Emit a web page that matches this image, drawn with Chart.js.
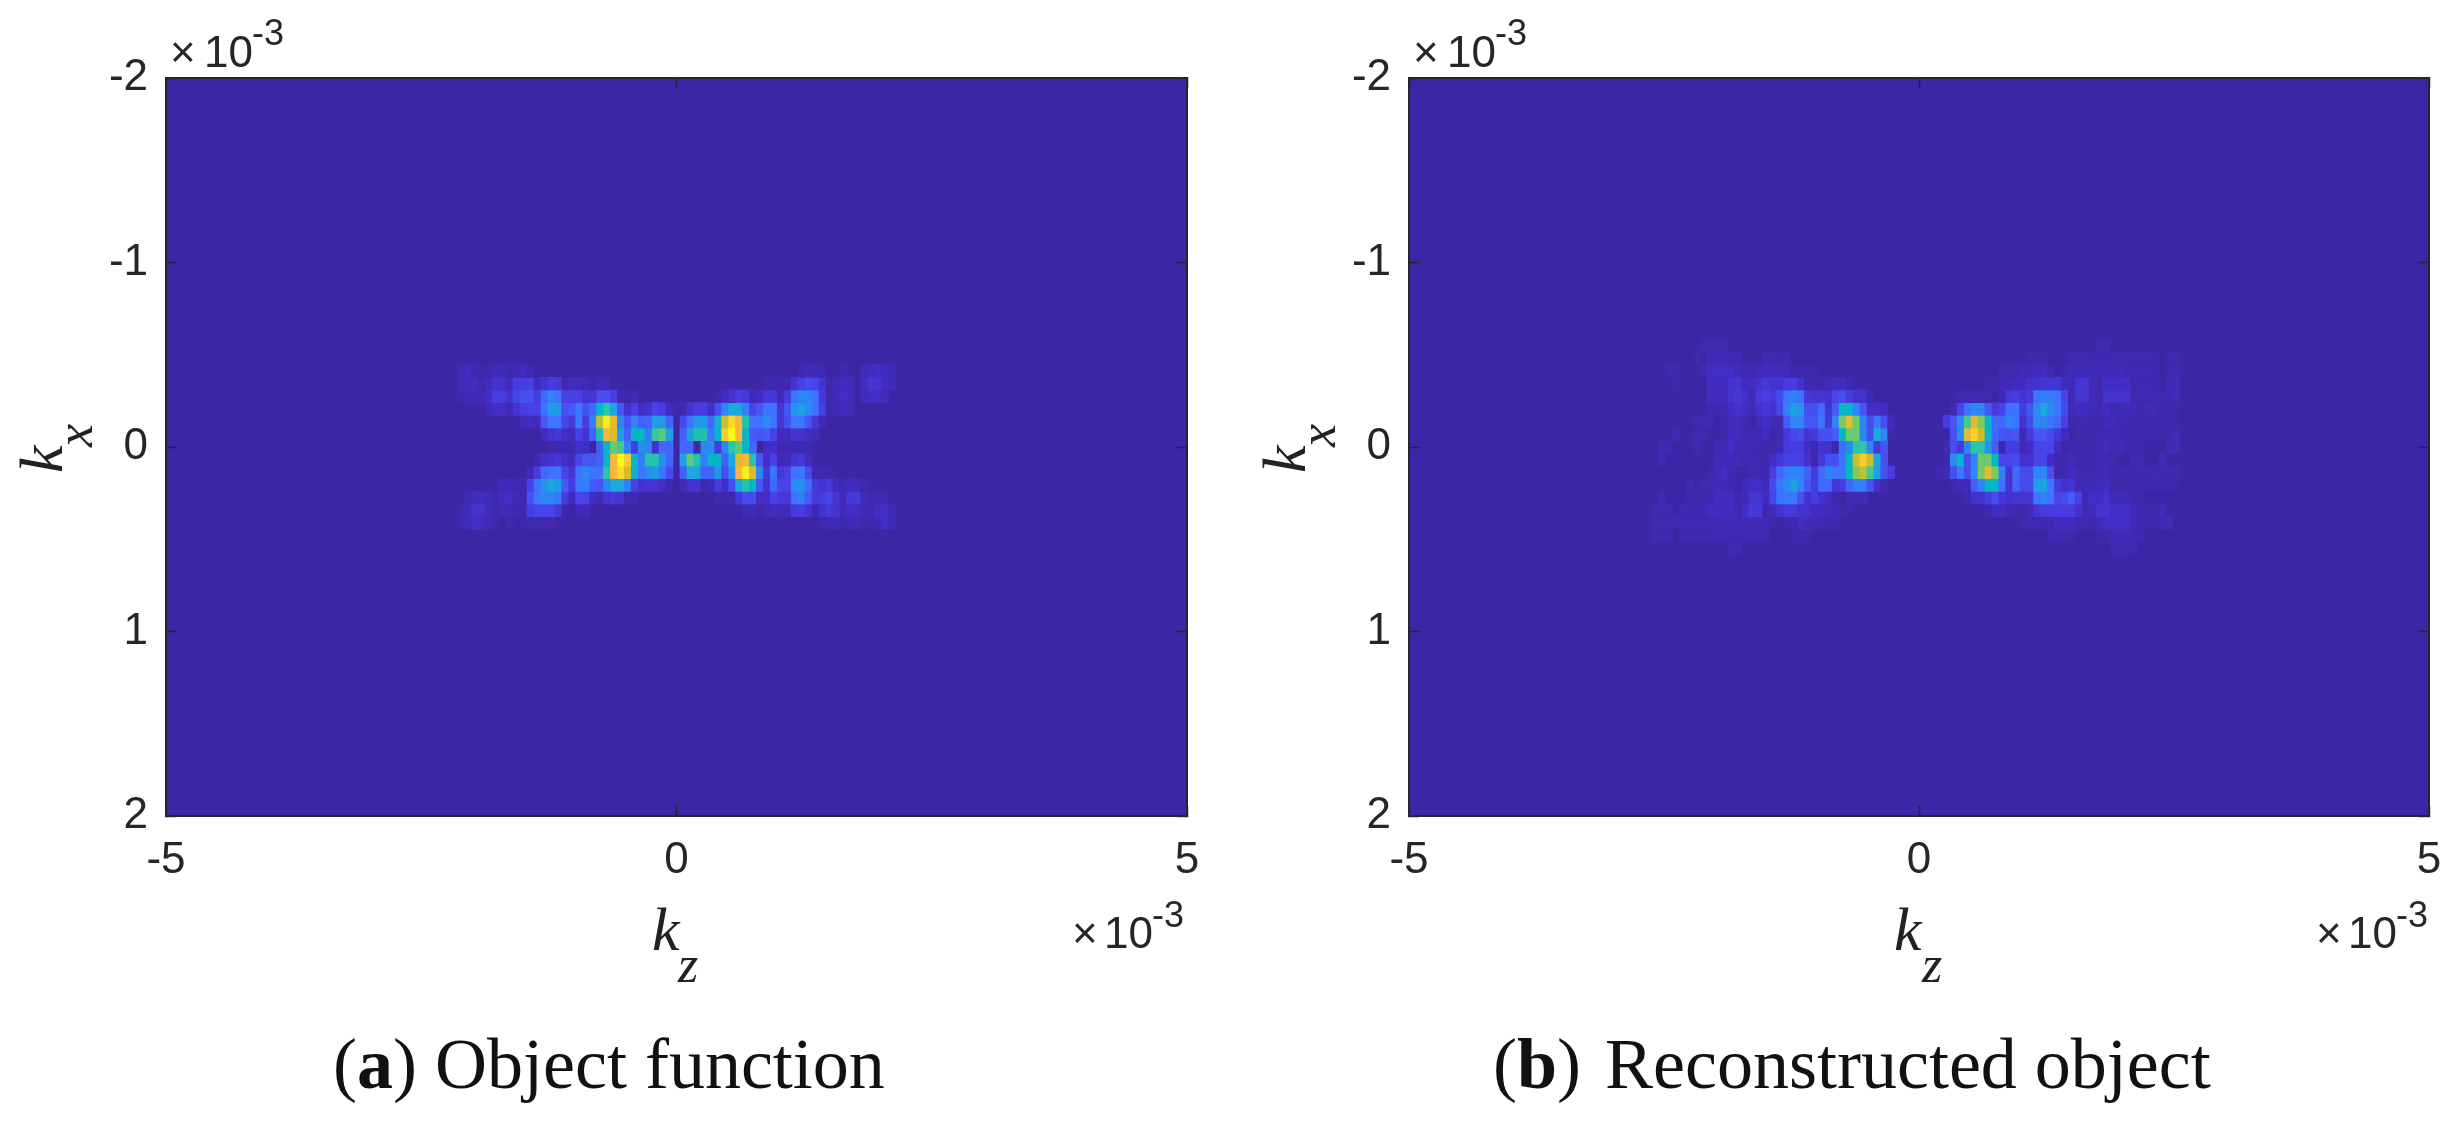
<!DOCTYPE html>
<html lang="en">
<head>
  <meta charset="UTF-8" />
  <title>Object function and reconstructed object</title>
  <script src="https://cdn.jsdelivr.net/npm/chart.js"></script>
  <style>
    html, body { margin: 0; padding: 0; background: #fff; overflow: hidden; }
    body { width: 2462px; height: 1126px; position: relative; }
    canvas { position: absolute; top: 0; }
    #chartA { left: 0; }
    #chartB { left: 1231px; }
    .t { position: absolute; line-height: 1; white-space: nowrap; }
    .sans { font-family: 'Liberation Sans', sans-serif; color: #262626; }
    .num { font-size: 44px; }
    .sup { font-size: 36px; }
    .k { font-family: 'Liberation Serif', serif; font-style: italic; color: #222; font-size: 62px; }
    .sub { font-family: 'Liberation Serif', serif; font-style: italic; color: #222; font-size: 52px; }
    .rot { transform: rotate(-90deg); transform-origin: 0 0; }
    .cap { font-family: 'Liberation Serif', serif; font-size: 72px; color: #111; }
  </style>
</head>
<body>
  <canvas id="chartA" width="1231" height="1126"></canvas>
  <canvas id="chartB" width="1231" height="1126"></canvas>

  <span class="t sans num" style="left:170px;top:30px">×</span>
  <span class="t sans num" style="left:204px;top:30px">10</span>
  <span class="t sans sup" style="left:252px;top:15px">-3</span>
  <span class="t sans num" style="left:1413px;top:30px">×</span>
  <span class="t sans num" style="left:1447px;top:30px">10</span>
  <span class="t sans sup" style="left:1495px;top:15px">-3</span>

  <span class="t sans num" style="left:1072px;top:911px">×</span>
  <span class="t sans num" style="left:1104px;top:911px">10</span>
  <span class="t sans sup" style="left:1152px;top:897px">-3</span>
  <span class="t sans num" style="left:2316px;top:911px">×</span>
  <span class="t sans num" style="left:2348px;top:911px">10</span>
  <span class="t sans sup" style="left:2396px;top:897px">-3</span>

  <span class="t k" style="left:652px;top:898px">k</span>
  <span class="t sub" style="left:678px;top:939px">z</span>
  <span class="t k" style="left:1894px;top:898px">k</span>
  <span class="t sub" style="left:1922px;top:939px">z</span>

  <span class="t k rot" style="left:10px;top:473px">k</span>
  <span class="t sub rot" style="left:49px;top:447px">x</span>
  <span class="t k rot" style="left:1253px;top:473px">k</span>
  <span class="t sub rot" style="left:1292px;top:447px">x</span>

  <span class="t cap" style="left:333px;top:1028px">(<b>a</b>)</span>
  <span class="t cap" style="left:435px;top:1028px">Object function</span>
  <span class="t cap" style="left:1493px;top:1028px">(<b>b</b>)</span>
  <span class="t cap" style="left:1605px;top:1028px">Reconstructed object</span>

  <script>
    const xTicks = [-5, 0, 5];
    const yTicks = [-2, -1, 0, 1, 2];

    // grid spacing of the k-space cells, in units of 1e-3
    const kzStep = 0.0681;
    const kxStep = 0.0687;

    // values are 0-100 on the colour scale
    // rows run top to bottom, left halves start at objectFirstCol, right halves at 0
    const objectRowIds = [-6, -5, -4, -3, -2, -1, 0, 1, 2, 3, 4, 5, 6];
    const objectFirstCol = -31;
    const objectLeft = [
      [3,4,2,1,1,3,3,1,3,4,2],
      [3,4,4,2,4,6,6,4,9,9,10,4,7,9,8,2,4,4,3,1,3,3],
      [1,3,3,3,5,9,9,6,11,13,13,9,18,27,21,10,10,10,7,7,13,13,10,2,1,3],
      [0,0,0,0,3,5,5,3,7,9,10,10,20,35,33,13,15,22,13,18,47,58,38,14,6,10,5,6,11,9,4],
      [0,0,0,0,0,0,0,0,0,3,4,3,14,21,20,11,8,22,9,26,80,98,85,27,14,28,16,17,34,34,17],
      [0,0,0,0,0,0,0,0,0,0,0,0,4,6,8,5,4,10,7,17,55,88,84,35,16,48,47,22,60,66,36],
      [0,0,0,0,0,0,0,0,0,0,0,0,0,2,2,2,1,5,5,0,16,46,68,62,25,9,30,28,6,18,18],
      [0,0,0,0,0,0,0,0,0,0,0,2,5,6,8,5,4,11,14,14,16,48,88,100,92,45,24,56,56,32,18],
      [0,0,0,0,0,0,0,0,0,0,3,9,18,20,20,11,7,20,28,20,20,58,88,94,83,44,22,30,34,22,12],
      [0,0,0,0,0,0,3,3,2,2,10,20,31,39,34,15,9,21,25,15,14,28,38,38,26,10,6,7,7,5,2],
      [0,2,4,4,3,1,4,5,3,2,13,22,28,28,22,9,4,11,11,5,3,7,8,7,3,2],
      [2,3,6,6,4,1,3,3,1,2,9,11,11,11,8,1,0,3,3],
      [2,3,5,4,3,1,0,2,0,1,2,2,2,2]
    ];
    const objectRight = [
      [0,0,0,0,0,0,0,0,0,0,0,0,0,0,0,0,0,0,2,3,3,2,0,0,2,0,0,3,4,5,4,3],
      [0,0,0,0,0,0,0,0,0,0,0,0,0,2,2,1,2,7,10,12,11,7,1,3,4,3,0,4,7,7,5,3],
      [0,0,0,0,0,0,1,4,6,9,8,3,4,8,8,3,9,20,27,27,20,8,1,3,5,4,0,3,5,5,3],
      [1,2,7,9,9,5,13,27,38,38,26,11,14,22,20,7,14,32,36,30,20,10,1,3,4,3],
      [0,12,20,33,33,18,42,82,94,88,55,20,20,30,21,7,13,22,22,14,8,3],
      [0,16,36,55,55,20,46,92,100,88,47,15,14,15,10,4,4,7,6,5,3],
      [0,18,18,1,28,30,9,28,58,66,46,18,0,5,5,1,2,2,2,2],
      [0,36,66,56,24,46,46,16,38,84,88,56,14,5,10,3,3,7,8,4],
      [0,16,38,38,17,17,32,12,30,88,98,83,28,8,20,8,10,20,22,12,2,2,2],
      [0,3,6,7,2,3,9,5,13,38,56,47,14,7,18,11,11,30,31,19,8,7,8,4,2,4,4,2],
      [0,0,0,0,0,0,2,1,1,8,12,12,5,5,10,8,8,20,25,15,8,9,11,7,4,8,8,3,2,2,2],
      [0,0,0,0,0,0,0,0,0,0,3,3,1,3,4,3,3,8,9,7,2,6,8,7,3,5,5,3,2,5,5,3],
      [0,0,0,0,0,0,0,0,0,0,0,0,0,0,0,0,0,0,0,0,0,2,2,3,1,3,3,1,1,2,5,3]
    ];

    const reconRowIds = [-8, -7, -6, -5, -4, -3, -2, -1, 0, 1, 2, 3, 4, 5, 6, 7, 8];
    const reconFirstCol = -38;
    const reconRightCol = 2;
    const reconLeft = [
      [0,0,0,0,0,0,0,2,2,2,2],
      [0,0,0,0,0,0,1,0,3,3,3,2,2,0,0,0,2,2,2,2],
      [0,0,2,2,0,0,0,2,5,5,5,5,3,2,2,3,4,4,4,3,1,1,1,1],
      [0,0,0,1,0,0,0,0,4,4,4,6,7,4,4,6,8,7,7,9,9,6,2,1,1,3,4,4,2],
      [0,0,0,0,0,0,0,0,4,4,4,7,8,6,3,8,10,8,12,20,26,20,8,7,7,6,11,13,9,6,6,2],
      [0,0,0,0,0,0,0,0,2,2,2,5,6,5,3,6,8,6,11,26,36,33,13,13,18,7,15,46,46,28,14,5,5,4],
      [0,0,0,0,0,0,2,2,2,0,2,3,4,2,0,3,5,3,3,15,27,27,14,14,22,8,27,70,85,68,27,12,22,13,3],
      [0,0,0,3,0,0,2,2,0,0,1,4,4,2,2,2,4,1,1,8,11,12,7,8,13,13,15,47,68,68,28,13,40,27,1],
      [0,2,2,0,0,0,2,0,0,2,3,5,2,2,2,2,1,1,3,8,9,9,5,2,6,6,1,20,29,58,58,28,8,14,0],
      [0,2,0,0,0,0,0,0,0,3,3,3,3,2,2,2,1,5,8,10,10,10,6,1,8,13,13,20,48,82,92,82,38,13],
      [0,0,0,0,0,0,0,0,1,3,5,2,0,0,2,2,1,9,18,24,27,27,16,8,18,28,21,21,47,72,80,62,36,13,9],
      [0,0,0,0,0,2,0,2,2,3,3,2,0,3,5,5,3,12,22,30,36,29,14,9,18,18,8,9,17,25,25,14,6,2],
      [0,2,0,0,0,1,1,1,2,4,4,4,1,3,7,7,4,11,20,22,22,13,7,9,6,5,1,0,3,3,3],
      [2,2,2,0,2,2,2,2,4,4,4,4,2,5,8,8,1,3,6,8,8,6,6,4,4,3,3,1,1],
      [2,2,2,2,2,2,2,2,2,3,3,3,3,3,3,3,3,1,0,1,2,5,3,3,2,2,2],
      [2,2,2,0,2,2,2,2,2,2,2,2,2,2,2,2,2,0,0,0,1,1,1],
      [0,0,0,0,0,0,0,0,0,0,0,2,2]
    ];
    const reconRight = [
      [0,0,0,0,0,0,0,0,0,0,0,0,0,0,0,0,0,0,0,0,0,0,0,0,2,2],
      [0,0,0,0,0,0,0,0,0,0,0,0,0,0,1,1,1,0,0,0,2,2,2,2,2,2,2,2,2,2,2,2,2,0,2,2],
      [0,0,0,0,0,0,0,0,0,0,2,2,2,3,3,4,4,2,0,2,3,3,3,3,3,3,3,3,2,2,2,2,2,0,2,2],
      [0,0,0,0,0,0,0,0,1,1,3,3,4,4,6,6,7,7,7,4,3,7,7,3,1,5,5,5,5,2,2,2,2,0,3,3],
      [0,0,0,0,2,2,2,2,2,0,3,8,9,7,8,21,24,24,20,11,3,7,7,3,1,6,6,6,6,2,2,2,2,2,2,3],
      [0,0,0,3,11,20,28,28,14,8,11,20,20,9,14,30,38,30,20,12,3,4,4,3,2,4,2,3,3,3,1,3,3,1,1,1],
      [0,0,9,14,30,62,84,72,46,18,18,28,20,6,12,27,27,22,18,10,1,2,2,1,1,3,3,2,2,1,1,1,1,1,1,1],
      [0,0,0,13,30,85,93,82,45,18,14,13,14,3,8,14,14,12,8,4,0,1,1,1,2,2,2,2,1,1,1,1,1,1,1,3],
      [0,0,2,12,8,28,58,58,32,16,1,9,9,3,5,11,11,11,4,0,1,2,2,2,2,4,2,3,1,1,2,0,0,0,3,3],
      [0,0,2,28,45,13,26,68,68,48,11,11,12,6,6,11,11,5,1,1,3,1,1,1,2,2,2,0,0,2,2,0,0,3],
      [0,2,3,13,22,12,28,70,85,70,27,7,18,12,12,27,27,13,2,2,4,3,1,2,2,3,1,1,2,2,2,2,2,2,2,2],
      [0,0,0,1,3,3,16,25,46,46,20,7,17,12,12,36,36,22,9,6,7,3,3,3,3,4,1,1,1,1,1,1,1,1,1,1],
      [0,0,0,0,0,2,6,6,9,12,8,6,7,7,7,20,26,20,11,12,15,10,3,5,5,6,3,3,3,1,1],
      [0,0,0,0,0,0,0,0,1,4,4,2,1,1,3,7,9,9,9,9,9,6,3,3,6,7,5,5,5,3,1,1,1,3],
      [0,0,0,0,0,0,0,0,0,0,0,0,0,2,2,2,2,2,4,4,4,2,2,2,3,5,5,5,5,3,1,1,1,3,3],
      [0,0,0,0,0,0,0,0,0,0,0,0,0,0,0,0,0,2,2,2,2,0,0,0,1,1,3,3,3,2,2],
      [0,0,0,0,0,0,0,0,0,0,0,0,0,0,0,0,0,0,0,0,0,0,0,0,0,0,2,2,2,2]
    ];

    const bgColor = '#3d26a5';
    const axisColor = '#262626';

    // parula-like colour map, stop value then rgb
    const cmap = [
      [0, 61, 38, 165], [2, 63, 41, 177], [5, 66, 46, 198], [10, 72, 64, 230], [15, 68, 91, 247],
      [20, 61, 115, 254], [30, 40, 140, 240], [38, 27, 168, 222], [48, 0, 186, 195],
      [58, 46, 197, 165], [66, 92, 203, 120], [75, 150, 200, 75], [82, 205, 190, 40],
      [88, 250, 183, 58], [94, 250, 215, 40], [100, 249, 251, 21]
    ];

    function colorFor(v) {
      for (let i = 1; i < cmap.length; i++) {
        const a = cmap[i - 1], b = cmap[i];
        if (v <= b[0]) {
          const f = (v - a[0]) / (b[0] - a[0]);
          return `rgb(${[1, 2, 3].map(n => Math.round(a[n] + f * (b[n] - a[n]))).join(',')})`;
        }
      }
      return 'rgb(249,251,21)';
    }

    // each row of cells is one dataset of floating bars
    function rowDatasets(rowIds, leftRows, leftStart, rightRows, rightStart) {
      return rowIds.map((row, i) => {
        const cells = [];
        const add = (vals, start) => vals.forEach((v, j) => {
          if (v > 0) cells.push({ x: (start + j) * kzStep, y: [(row - 0.5) * kxStep, (row + 0.5) * kxStep], v });
        });
        add(leftRows[i], leftStart);
        add(rightRows[i], rightStart);
        return {
          data: cells,
          backgroundColor: cells.map(c => colorFor(c.v)),
          borderWidth: 0,
          borderSkipped: false,
          barThickness: 7,
          grouped: false
        };
      });
    }

    const plotBackground = {
      id: 'plotBackground',
      beforeDatasetsDraw(chart) {
        const { ctx, chartArea: a } = chart;
        ctx.save();
        ctx.fillStyle = bgColor;
        ctx.fillRect(a.left, a.top, a.right - a.left, a.bottom - a.top);
        ctx.restore();
      }
    };

    function axis(position, min, max, ticks, showLabels, padding) {
      return {
        type: 'linear',
        position,
        axis: position === 'left' || position === 'right' ? 'y' : 'x',
        min, max,
        offset: false,
        reverse: position === 'left' || position === 'right',
        afterBuildTicks: s => { s.ticks = ticks.map(value => ({ value })); },
        afterFit: s => {
          if (position === 'left') s.width = s.chart.$leftGutter;
          if (position === 'bottom') s.height = 100;
          if (position === 'top') s.height = 0;
          if (position === 'right') s.width = 0;
          // stop the outer tick labels from pulling the plot edges in
          s.paddingLeft = s.paddingRight = s.paddingTop = s.paddingBottom = 0;
        },
        grid: { drawOnChartArea: false, offset: false, tickLength: -10, tickColor: axisColor, tickWidth: 1.5, z: 1 },
        border: { display: true, color: axisColor, width: 2, z: 2 },
        ticks: {
          display: showLabels,
          autoSkip: false,
          maxRotation: 0,
          padding,
          color: axisColor,
          font: { family: "'Liberation Sans', sans-serif", size: 44 },
          callback: v => String(v)
        }
      };
    }

    function drawPanel(id, datasets, leftGutter, rightPad) {
      const canvas = document.getElementById(id);
      const chart = new Chart(canvas, {
        type: 'bar',
        data: { datasets },
        plugins: [plotBackground, {
          id: 'gutter',
          beforeInit(c) { c.$leftGutter = leftGutter; }
        }],
        options: {
          responsive: false,
          animation: false,
          devicePixelRatio: 1,
          events: [],
          layout: { autoPadding: false, padding: { left: 0, top: 78, right: rightPad, bottom: 210 } },
          plugins: { legend: { display: false }, tooltip: { enabled: false } },
          scales: {
            x: axis('bottom', -5, 5, xTicks, true, 28),
            y: axis('left', -2, 2, yTicks, true, 28),
            xTop: axis('top', -5, 5, xTicks, false, 0),
            yRight: axis('right', -2, 2, yTicks, false, 0)
          }
        }
      });
      return chart;
    }

    drawPanel('chartA', rowDatasets(objectRowIds, objectLeft, objectFirstCol, objectRight, 0), 166, 44);
    drawPanel('chartB', rowDatasets(reconRowIds, reconLeft, reconFirstCol, reconRight, reconRightCol), 178, 33);
  </script>
</body>
</html>
